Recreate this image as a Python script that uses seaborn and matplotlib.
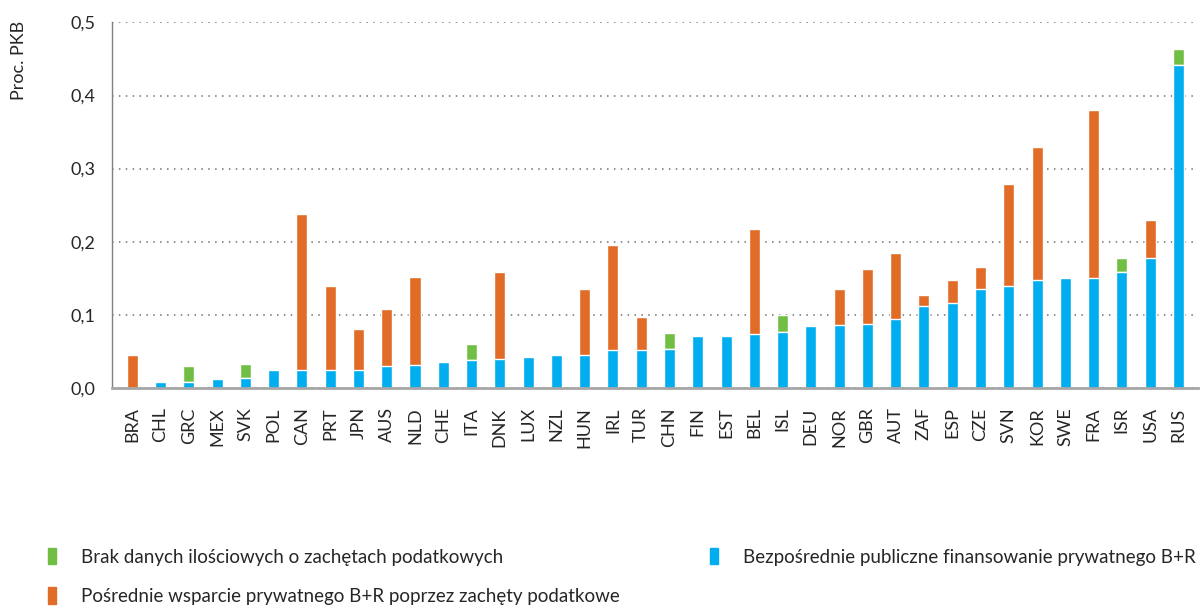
import pandas as pd
import matplotlib.pyplot as plt
import matplotlib.patches as mpatches
import seaborn as sns

# Country codes in chart order
countries = ['BRA', 'CHL', 'GRC', 'MEX', 'SVK', 'POL', 'CAN', 'PRT', 'JPN', 'AUS',
             'NLD', 'CHE', 'ITA', 'DNK', 'LUX', 'NZL', 'HUN', 'IRL', 'TUR', 'CHN',
             'FIN', 'EST', 'BEL', 'ISL', 'DEU', 'NOR', 'GBR', 'AUT', 'ZAF', 'ESP',
             'CZE', 'SVN', 'KOR', 'SWE', 'FRA', 'ISR', 'USA', 'RUS']

# Direct public funding of business R&D (% of GDP)
direct = [0.000, 0.008, 0.008, 0.012, 0.013, 0.024, 0.024, 0.024, 0.024, 0.030,
          0.031, 0.036, 0.038, 0.039, 0.042, 0.045, 0.045, 0.052, 0.052, 0.053,
          0.071, 0.071, 0.074, 0.077, 0.084, 0.086, 0.088, 0.094, 0.112, 0.116,
          0.135, 0.140, 0.148, 0.150, 0.150, 0.158, 0.178, 0.442]

# Indirect support through tax incentives
indirect = [0.045, 0.000, 0.000, 0.000, 0.000, 0.000, 0.214, 0.116, 0.057, 0.078,
            0.120, 0.000, 0.000, 0.119, 0.000, 0.000, 0.090, 0.143, 0.045, 0.000,
            0.000, 0.000, 0.144, 0.000, 0.000, 0.049, 0.074, 0.090, 0.015, 0.032,
            0.030, 0.139, 0.182, 0.000, 0.230, 0.000, 0.051, 0.000]

# No quantitative data on tax incentives
no_data = [0.000, 0.000, 0.022, 0.000, 0.020, 0.000, 0.000, 0.000, 0.000, 0.000,
           0.000, 0.000, 0.022, 0.000, 0.000, 0.000, 0.000, 0.000, 0.000, 0.022,
           0.000, 0.000, 0.000, 0.022, 0.000, 0.000, 0.000, 0.000, 0.000, 0.000,
           0.000, 0.000, 0.000, 0.000, 0.000, 0.020, 0.000, 0.022]

yticks = [0.0, 0.1, 0.2, 0.3, 0.4, 0.5]

blue = '#00AEEF'
orange = '#E06C28'
green = '#70BF44'

df = pd.DataFrame({'Country': countries, 'Direct': direct,
                   'Indirect': indirect, 'NoData': no_data})
df['Lower2'] = df['Direct'] + df['Indirect']
df['Total'] = df['Lower2'] + df['NoData']

sns.set_style('white')
plt.rcParams['font.family'] = ['Lato', 'DejaVu Sans']

fig = plt.figure(figsize=(12.03, 6.06), dpi=100)
ax = fig.add_axes([0.0935, 0.360, 0.9025, 0.603])

# stack by overdrawing cumulative totals
sns.barplot(data=df, x='Country', y='Total', color=green, width=0.39,
            saturation=1, ax=ax, zorder=3)
sns.barplot(data=df, x='Country', y='Lower2', color=orange, width=0.39,
            saturation=1, ax=ax, zorder=3)
sns.barplot(data=df, x='Country', y='Direct', color=blue, width=0.39,
            saturation=1, ax=ax, zorder=3)

ax.set_xlim(-0.7, 37.7)
ax.set_ylim(0, 0.5)
ax.set_yticks(yticks)
ax.set_yticklabels([f'{v:.1f}'.replace('.', ',') for v in yticks], fontsize=13)
ax.tick_params(axis='y', length=0, pad=12.5)
ax.tick_params(axis='x', length=0, pad=14, labelsize=13, labelrotation=90)
ax.set_xlabel('')
ax.set_ylabel('')
ax.yaxis.grid(True, linestyle=(0, (1, 3.5)), color='#707070', linewidth=1.1, zorder=0)
ax.set_axisbelow(True)

for s in ['top', 'right']:
    ax.spines[s].set_visible(False)
ax.spines['left'].set_color('#808080')
ax.spines['left'].set_linewidth(1)
ax.spines['bottom'].set_color('#A6A6A6')
ax.spines['bottom'].set_linewidth(2)
ax.spines['bottom'].set_zorder(4)

fig.text(0.009, 0.965, 'Proc. PKB', rotation=90, fontsize=13, va='top', ha='left')

handles = [mpatches.Patch(color=green, label='Brak danych ilościowych o zachętach podatkowych'),
           mpatches.Patch(color=orange, label='Pośrednie wsparcie prywatnego B+R poprzez zachęty podatkowe'),
           mpatches.Patch(color=blue, label='Bezpośrednie publiczne finansowanie prywatnego B+R')]
fig.legend(handles=handles, ncol=2, loc='lower left', bbox_to_anchor=(0.039, 0.0),
           frameon=False, fontsize=13.5, handlelength=0.43, handleheight=0.96,
           handletextpad=1.33, columnspacing=4.8, labelspacing=1.17, borderpad=0.05,
           borderaxespad=0)

fig.savefig('out.png', dpi=100)
